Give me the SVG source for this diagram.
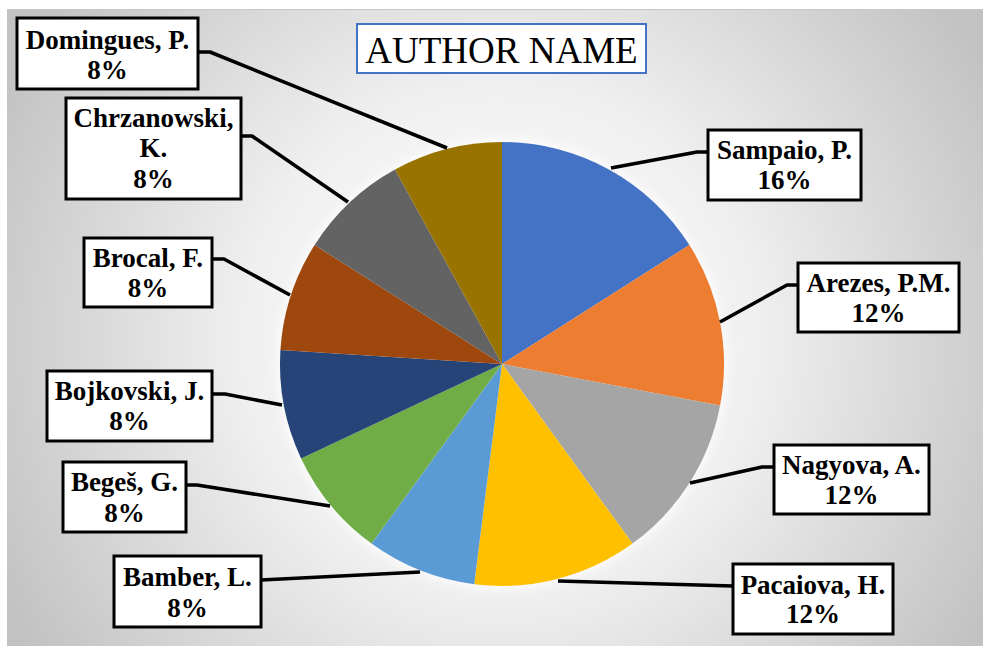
<svg xmlns="http://www.w3.org/2000/svg" width="983" height="646" viewBox="0 0 983 646">
  <defs>
    <radialGradient id="bg" cx="500" cy="340" r="560" gradientUnits="userSpaceOnUse">
      <stop offset="0" stop-color="#ffffff"/>
      <stop offset="0.45" stop-color="#f0f0f0"/>
      <stop offset="1" stop-color="#c2c2c2"/>
    </radialGradient>
    <filter id="glow" x="-20%" y="-20%" width="140%" height="140%">
      <feGaussianBlur stdDeviation="5"/>
    </filter>
  </defs>
  <style>
    .box { fill: #ffffff; stroke: #000000; stroke-width: 3; }
    .lbl { font-weight: bold; font-size: 27px; fill: #000000; text-anchor: middle; }
    .lead { fill: none; stroke: #000000; stroke-width: 3.6; stroke-linejoin: round; }
    .title { font-size: 37px; fill: #000000; text-anchor: middle; }
  </style>
  <rect x="0" y="0" width="983" height="646" fill="#ffffff"/>
  <rect x="7" y="9" width="976" height="637" fill="url(#bg)"/>
  <line x1="7" y1="9.5" x2="983" y2="9.5" stroke="#c8c8c8" stroke-width="1"/>

  <g id="title">
    <rect x="357" y="24" width="289" height="49" fill="#ffffff" stroke="#4472C4" stroke-width="2"/>
    <text class="title" x="501.5" y="63" font-family="Liberation Serif, serif">AUTHOR NAME</text>
  </g>

  <g id="pie">
    <circle cx="502" cy="364" r="225" fill="#ffffff" opacity="0.8" filter="url(#glow)"/>
    <path id="s-sampaio" d="M502,364 L502,142 A222,222 0 0 1 689.4,245 Z" fill="#4472C4"/>
    <path id="s-arezes" d="M502,364 L689.4,245 A222,222 0 0 1 720.1,405.6 Z" fill="#ED7D31"/>
    <path id="s-nagyova" d="M502,364 L720.1,405.6 A222,222 0 0 1 632.5,543.6 Z" fill="#A5A5A5"/>
    <path id="s-pacaiova" d="M502,364 L632.5,543.6 A222,222 0 0 1 474.2,584.2 Z" fill="#FFC000"/>
    <path id="s-bamber" d="M502,364 L474.2,584.2 A222,222 0 0 1 371.5,543.6 Z" fill="#5B9BD5"/>
    <path id="s-beges" d="M502,364 L371.5,543.6 A222,222 0 0 1 301.1,458.5 Z" fill="#70AD47"/>
    <path id="s-bojkovski" d="M502,364 L301.1,458.5 A222,222 0 0 1 280.4,350.1 Z" fill="#264478"/>
    <path id="s-brocal" d="M502,364 L280.4,350.1 A222,222 0 0 1 314.6,245 Z" fill="#9E480E"/>
    <path id="s-chrzanowski" d="M502,364 L314.6,245 A222,222 0 0 1 395,169.5 Z" fill="#636363"/>
    <path id="s-domingues" d="M502,364 L395,169.5 A222,222 0 0 1 502,142 Z" fill="#997300"/>
  </g>

  <g id="connectors">
    <polyline class="lead" points="611,168 697,152 708,152"/>
    <polyline class="lead" points="720,322 787,285 798,285"/>
    <polyline class="lead" points="690,483 762,467 774,467"/>
    <polyline class="lead" points="558,581 733,586"/>
    <polyline class="lead" points="420,572 261,580"/>
    <polyline class="lead" points="330,506 197,485 186,485"/>
    <polyline class="lead" points="282,405 225,394 212,394"/>
    <polyline class="lead" points="290,295 224,259 212,259"/>
    <polyline class="lead" points="348,202 252,136 241,136"/>
    <polyline class="lead" points="447,148 210,52 198,52"/>
  </g>

  <g id="n-sampaio">
    <rect class="box" x="708" y="130" width="153" height="70"/>
    <text class="lbl" x="784.5" y="159" font-family="Liberation Serif, serif">Sampaio, P.</text>
    <text class="lbl" x="784.5" y="189" font-family="Liberation Serif, serif">16%</text>
  </g>
  <g id="n-arezes">
    <rect class="box" x="798" y="263" width="161" height="69"/>
    <text class="lbl" x="878.5" y="292" font-family="Liberation Serif, serif">Arezes, P.M.</text>
    <text class="lbl" x="878.5" y="322" font-family="Liberation Serif, serif">12%</text>
  </g>
  <g id="n-nagyova">
    <rect class="box" x="774" y="445" width="155" height="69"/>
    <text class="lbl" x="851.5" y="474" font-family="Liberation Serif, serif">Nagyova, A.</text>
    <text class="lbl" x="851.5" y="504" font-family="Liberation Serif, serif">12%</text>
  </g>
  <g id="n-pacaiova">
    <rect class="box" x="733" y="564" width="160" height="70"/>
    <text class="lbl" x="813" y="594" font-family="Liberation Serif, serif">Pacaiova, H.</text>
    <text class="lbl" x="813" y="623" font-family="Liberation Serif, serif">12%</text>
  </g>
  <g id="n-bamber">
    <rect class="box" x="114" y="556" width="147" height="71"/>
    <text class="lbl" x="187.5" y="586" font-family="Liberation Serif, serif">Bamber, L.</text>
    <text class="lbl" x="187.5" y="617" font-family="Liberation Serif, serif">8%</text>
  </g>
  <g id="n-beges">
    <rect class="box" x="63" y="462" width="123" height="70"/>
    <text class="lbl" x="124.5" y="491" font-family="Liberation Serif, serif">Begeš, G.</text>
    <text class="lbl" x="124.5" y="522" font-family="Liberation Serif, serif">8%</text>
  </g>
  <g id="n-bojkovski">
    <rect class="box" x="47" y="371" width="165" height="70"/>
    <text class="lbl" x="129.5" y="400" font-family="Liberation Serif, serif">Bojkovski, J.</text>
    <text class="lbl" x="129.5" y="430" font-family="Liberation Serif, serif">8%</text>
  </g>
  <g id="n-brocal">
    <rect class="box" x="84" y="238" width="128" height="69"/>
    <text class="lbl" x="148" y="267" font-family="Liberation Serif, serif">Brocal, F.</text>
    <text class="lbl" x="148" y="297" font-family="Liberation Serif, serif">8%</text>
  </g>
  <g id="n-chrzanowski">
    <rect class="box" x="66" y="98" width="175" height="101"/>
    <text class="lbl" x="153.5" y="127" font-family="Liberation Serif, serif">Chrzanowski,</text>
    <text class="lbl" x="153.5" y="157" font-family="Liberation Serif, serif">K.</text>
    <text class="lbl" x="153.5" y="188" font-family="Liberation Serif, serif">8%</text>
  </g>
  <g id="n-domingues">
    <rect class="box" x="17" y="18" width="181" height="71"/>
    <text class="lbl" x="107.5" y="49" font-family="Liberation Serif, serif">Domingues, P.</text>
    <text class="lbl" x="107.5" y="79" font-family="Liberation Serif, serif">8%</text>
  </g>
</svg>
